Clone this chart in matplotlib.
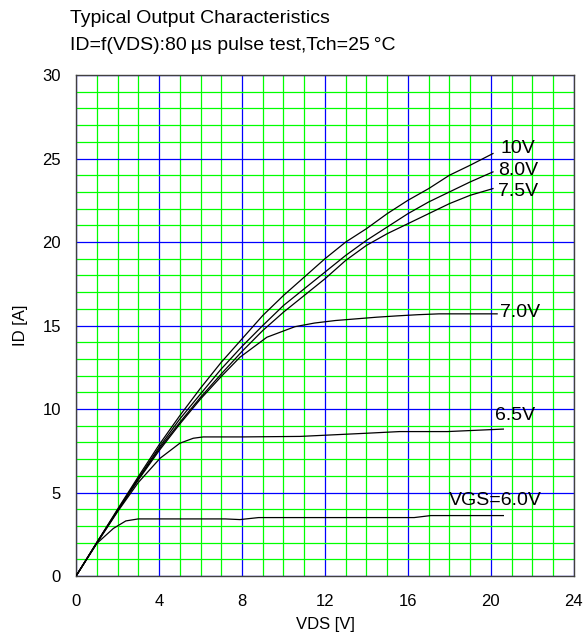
import matplotlib
matplotlib.use('Agg')
import matplotlib.pyplot as plt
from matplotlib.ticker import MultipleLocator

plt.rcParams['font.family'] = ['Liberation Sans', 'DejaVu Sans']

# (VDS in V, ID in A)
vds_hi = [0, 1, 2, 3, 4, 5, 6, 7, 8, 9, 10, 11, 12, 13, 14, 15, 16, 17, 18, 19, 20.1]
id_10v = [0, 2.0, 4.0, 5.95, 7.85, 9.6, 11.25, 12.8, 14.2, 15.6, 16.8, 17.9, 19.0, 20.0, 20.8, 21.7, 22.5, 23.2, 24.0, 24.6, 25.3]
id_80v = [0, 2.0, 3.95, 5.85, 7.7, 9.4, 10.9, 12.4, 13.75, 15.0, 16.2, 17.2, 18.2, 19.2, 20.1, 20.9, 21.7, 22.4, 23.0, 23.6, 24.2]
id_75v = [0, 2.0, 3.9, 5.8, 7.6, 9.2, 10.7, 12.1, 13.45, 14.7, 15.8, 16.8, 17.8, 18.9, 19.8, 20.5, 21.1, 21.7, 22.3, 22.8, 23.2]

vds_70 = [0, 1, 2, 3, 4, 5, 6, 7, 7.9, 9.2, 10.55, 11.5, 12.5, 13.5, 14.5, 15.5, 16.5, 17.5, 18.5, 20.3]
id_70v = [0, 2.0, 3.9, 5.75, 7.5, 9.1, 10.6, 11.95, 13.1, 14.3, 14.93, 15.15, 15.3, 15.4, 15.5, 15.58, 15.65, 15.7, 15.7, 15.7]

vds_65 = [0, 1, 2, 3, 4.05, 5.0, 5.65, 6.13, 8, 10.8, 14.0, 15.6, 17.9, 20.6]
id_65v = [0, 1.95, 3.85, 5.6, 7.05, 7.95, 8.25, 8.33, 8.33, 8.36, 8.55, 8.65, 8.65, 8.8]

vds_60 = [0, 1, 1.8, 2.4, 3.0, 7.2, 7.9, 8.8, 16.3, 17.1, 20.6]
id_60v = [0, 1.95, 2.85, 3.3, 3.42, 3.42, 3.38, 3.5, 3.5, 3.62, 3.62]

series = [
    (vds_hi, id_10v, '10V', 20.45, 25.6),
    (vds_hi, id_80v, '8.0V', 20.35, 24.3),
    (vds_hi, id_75v, '7.5V', 20.35, 23.0),
    (vds_70, id_70v, '7.0V', 20.45, 15.8),
    (vds_65, id_65v, '6.5V', 20.2, 9.6),
    (vds_60, id_60v, 'VGS=6.0V', 17.98, 4.55),
]

fig = plt.figure(figsize=(5.85, 6.36), dpi=100)
ax = fig.add_axes([0.13, 0.0943, 0.851, 0.7877])

ax.set_xlim(0, 24)
ax.set_ylim(0, 30)
ax.xaxis.set_major_locator(MultipleLocator(4))
ax.yaxis.set_major_locator(MultipleLocator(5))
ax.xaxis.set_minor_locator(MultipleLocator(1))
ax.yaxis.set_minor_locator(MultipleLocator(1))
ax.grid(which='minor', color='#00ff00', lw=0.9, zorder=0)
ax.grid(which='major', color='#0000ff', lw=0.9, zorder=1)
ax.set_axisbelow(True)
ax.tick_params(which='both', length=0)
ax.tick_params(axis='x', labelsize=12, pad=13)
ax.tick_params(axis='y', labelsize=12, pad=11)
for s in ax.spines.values():
    s.set_color('#404040')
    s.set_linewidth(1.0)

for x, y, lab, lx, ly in series:
    ax.plot(x, y, color='black', lw=0.9, zorder=3)
    ax.text(lx, ly, lab, fontsize=14, va='center', ha='left', zorder=4)

ax.set_xlabel('VDS [V]', fontsize=12, labelpad=6)
ax.set_ylabel('ID [A]', fontsize=12, labelpad=10)

fig.text(0.12, 0.971, 'Typical Output Characteristics', fontsize=14, va='center', ha='left')
fig.text(0.12, 0.929, 'ID=f(VDS):80\u2009\u00b5s pulse test,Tch=25\u2009\u00b0C', fontsize=14, va='center', ha='left')

fig.savefig('out.png', dpi=100)
